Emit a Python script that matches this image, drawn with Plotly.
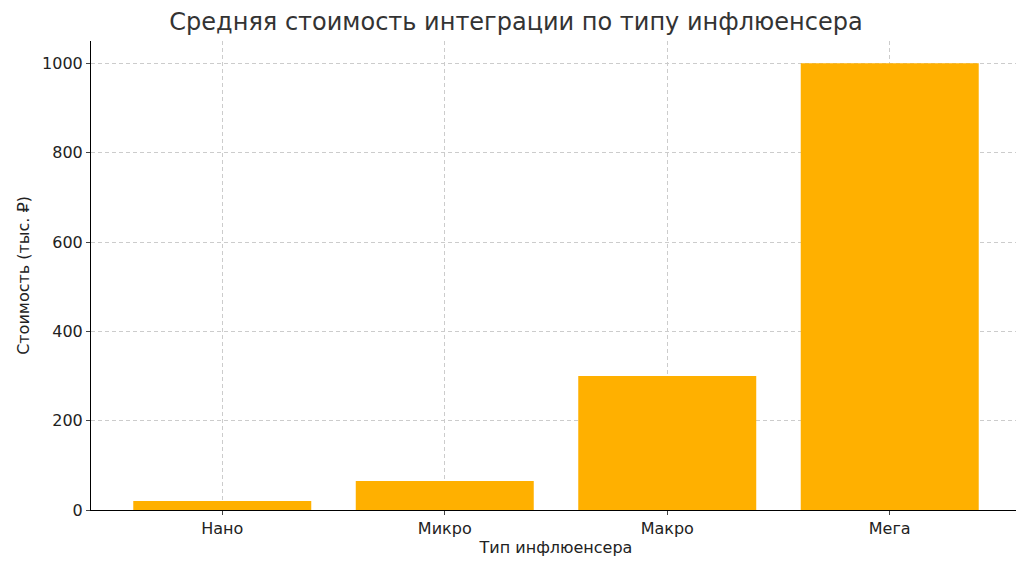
import plotly.graph_objects as go

categories = ['Нано', 'Микро', 'Макро', 'Мега']
costs = [20, 65, 300, 1000]
y_ticks = [0, 200, 400, 600, 800, 1000]

fig = go.Figure()
fig.add_trace(go.Bar(x=list(range(len(categories))), y=costs, width=0.8,
                     marker=dict(color='#FFB000', line=dict(width=0))))

grid = dict(showgrid=True, gridcolor='#CCCCCC', griddash='4px,3px', gridwidth=1)
fig.update_layout(
    width=1016, height=556,
    margin=dict(l=83, r=3, t=33, b=54),
    plot_bgcolor='white', paper_bgcolor='white',
    font=dict(family='DejaVu Sans', size=16, color='#222222'),
    title=dict(text='Средняя стоимость интеграции по типу инфлюенсера',
               x=0.5, xanchor='center', y=0.975, yanchor='middle',
               font=dict(size=24, color='#333333')),
    showlegend=False,
    xaxis=dict(range=[-0.59, 3.59], tickvals=list(range(len(categories))),
               ticktext=categories, ticks='outside', ticklen=4,
               showline=True, linecolor='black', zeroline=False,
               title=dict(text='Тип инфлюенсера', font=dict(size=16), standoff=4),
               layer='above traces', **grid),
    yaxis=dict(range=[0, 1050], tickvals=y_ticks, ticks='outside', ticklen=4,
               showline=True, linecolor='black', zeroline=False,
               title=dict(text='Стоимость (тыс. ₽)', font=dict(size=16), standoff=8),
               layer='above traces', **grid),
)

fig.write_html("out.html")
